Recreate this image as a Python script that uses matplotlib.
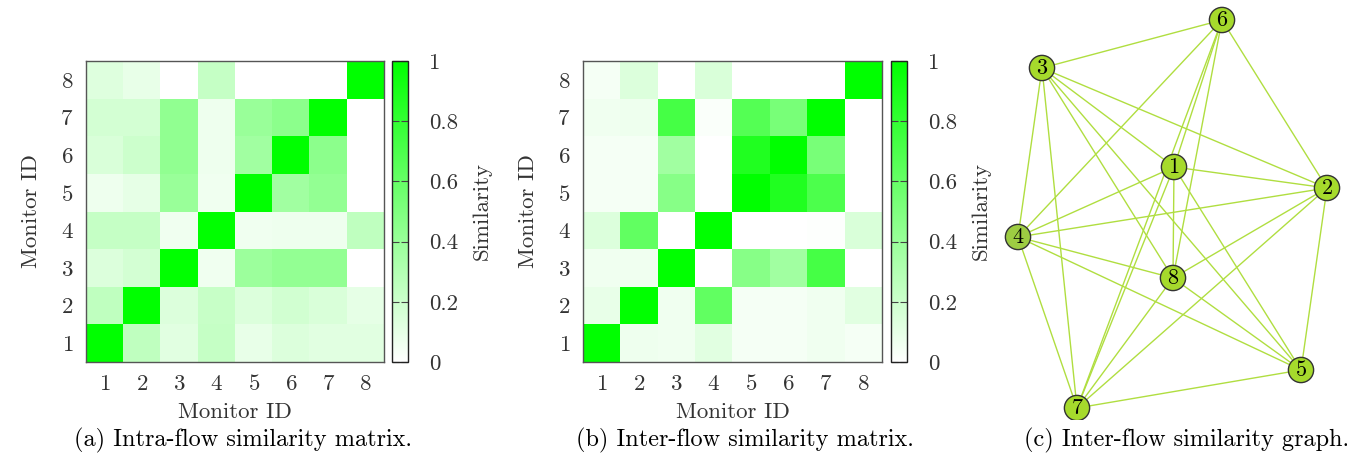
import numpy as np
import matplotlib
matplotlib.use("Agg")
import matplotlib.pyplot as plt
from matplotlib.colors import LinearSegmentedColormap

plt.rcParams['font.family'] = 'serif'
plt.rcParams['font.serif'] = ['cmr10', 'DejaVu Serif']
plt.rcParams['axes.formatter.use_mathtext'] = True
plt.rcParams['mathtext.fontset'] = 'cm'

# ---------------- data ----------------
monitors = [1, 2, 3, 4, 5, 6, 7, 8]

# rows = monitor 1..8 (bottom to top), cols = monitor 1..8
intra_sim = [
    [1.00, 0.25, 0.12, 0.23, 0.09, 0.14, 0.12, 0.12],
    [0.25, 1.00, 0.14, 0.22, 0.14, 0.18, 0.15, 0.10],
    [0.14, 0.17, 1.00, 0.06, 0.39, 0.42, 0.42, 0.00],
    [0.23, 0.23, 0.06, 1.00, 0.06, 0.07, 0.07, 0.25],
    [0.07, 0.10, 0.40, 0.06, 1.00, 0.37, 0.42, 0.00],
    [0.15, 0.20, 0.43, 0.07, 0.37, 1.00, 0.45, 0.00],
    [0.17, 0.17, 0.43, 0.07, 0.40, 0.45, 1.00, 0.00],
    [0.13, 0.09, 0.00, 0.23, 0.00, 0.00, 0.00, 1.00],
]

inter_sim = [
    [1.00, 0.07, 0.06, 0.12, 0.04, 0.04, 0.06, 0.04],
    [0.09, 1.00, 0.06, 0.62, 0.04, 0.04, 0.06, 0.12],
    [0.06, 0.06, 1.00, 0.00, 0.47, 0.37, 0.73, 0.00],
    [0.14, 0.62, 0.00, 1.00, 0.00, 0.00, 0.01, 0.15],
    [0.04, 0.04, 0.47, 0.00, 1.00, 0.87, 0.70, 0.00],
    [0.04, 0.04, 0.37, 0.00, 0.87, 1.00, 0.53, 0.00],
    [0.06, 0.07, 0.73, 0.02, 0.67, 0.53, 1.00, 0.00],
    [0.04, 0.14, 0.00, 0.15, 0.00, 0.00, 0.00, 1.00],
]

cbar_ticks = [0, 0.2, 0.4, 0.6, 0.8, 1]
cbar_labels = ['0', '0.2', '0.4', '0.6', '0.8', '1']

# graph layout (node id -> position), y grows downward
node_ids = [1, 2, 3, 4, 5, 6, 7, 8]
node_x = [174, 327, 42, 18, 301, 222, 77, 173]
node_y = [167, 188, 68, 237, 370, 20, 408, 278]
node_colors = ['#a6da2c', '#a6da2c', '#a6da2c', '#9dcc42',
               '#a6da2c', '#a6da2c', '#a6da2c', '#a6da2c']
edges = [(1, 2), (1, 3), (1, 4), (1, 5), (1, 6), (1, 7), (1, 8),
         (2, 3), (2, 4), (2, 5), (2, 6), (2, 7), (2, 8),
         (3, 4), (3, 5), (3, 6), (3, 7), (3, 8),
         (4, 5), (4, 6), (4, 7), (4, 8),
         (5, 7), (5, 8),
         (6, 7), (6, 8),
         (7, 8)]

captions = ['(a) Intra-flow similarity matrix.',
            '(b) Inter-flow similarity matrix.',
            '(c) Inter-flow similarity graph.']

# ---------------- figure ----------------
W, H = 1347, 458
fig = plt.figure(figsize=(W / 100, H / 100), dpi=100)

cmap = LinearSegmentedColormap.from_list('wg', ['#ffffff', '#00ff00'])
txt = '#333333'
fs = 16.5


def px(x0, y0, w, h):
    # pixel box (top-left origin) -> figure fraction
    return [x0 / W, (H - y0 - h) / H, w / W, h / H]


def heatmap(rect, crect, data):
    ax = fig.add_axes(px(*rect))
    im = ax.imshow(np.array(data), cmap=cmap, vmin=0, vmax=1, origin='lower',
                   extent=(0.5, 8.5, 0.5, 8.5), aspect='auto',
                   interpolation='nearest')
    ax.set_xticks(monitors)
    ax.set_yticks(monitors)
    ax.tick_params(length=0, labelsize=fs, colors=txt, pad=9)
    ax.set_xlabel('Monitor ID', fontsize=fs, color=txt, labelpad=6)
    ax.set_ylabel('Monitor ID', fontsize=fs, color=txt, labelpad=14)
    for s in ax.spines.values():
        s.set_color('#555555')
        s.set_linewidth(1.0)

    cax = fig.add_axes(px(*crect))
    cb = fig.colorbar(im, cax=cax, ticks=cbar_ticks)
    cb.ax.set_yticklabels(cbar_labels)
    cb.outline.set_linewidth(1.0)
    cb.outline.set_edgecolor('#222222')
    cax.yaxis.set_ticks_position('both')
    cax.tick_params(direction='in', length=5, width=0.8, color='#444444',
                    labelsize=fs, labelcolor=txt, pad=15)
    cb.set_label('Similarity', fontsize=fs, color=txt, labelpad=10)
    return ax


heatmap((86, 61, 298, 301), (392, 61, 16, 301), intra_sim)
heatmap((583, 61, 299, 301), (891, 61, 16, 301), inter_sim)

# graph panel
gx = fig.add_axes(px(1000, 0, 347, 420))
gx.set_xlim(0, 347)
gx.set_ylim(420, 0)
gx.axis('off')
pos = {n: (x, y) for n, x, y in zip(node_ids, node_x, node_y)}
for a, b in edges:
    gx.plot([pos[a][0], pos[b][0]], [pos[a][1], pos[b][1]],
            color='#b0de40', lw=1.0, zorder=1, solid_capstyle='butt')
gx.scatter(node_x, node_y, s=330, c=node_colors, edgecolors='#333333',
           linewidths=1.0, zorder=3)
for n, x, y in zip(node_ids, node_x, node_y):
    gx.text(x, y, str(n), ha='center', va='center', fontsize=16,
            color='black', zorder=4)

# captions
for cx, cap in zip([243, 745, 1187], captions):
    fig.text(cx / W, (H - 440) / H, cap, ha='center', va='center',
             fontsize=17.5, color='black')

fig.savefig('out.png', dpi=100)
